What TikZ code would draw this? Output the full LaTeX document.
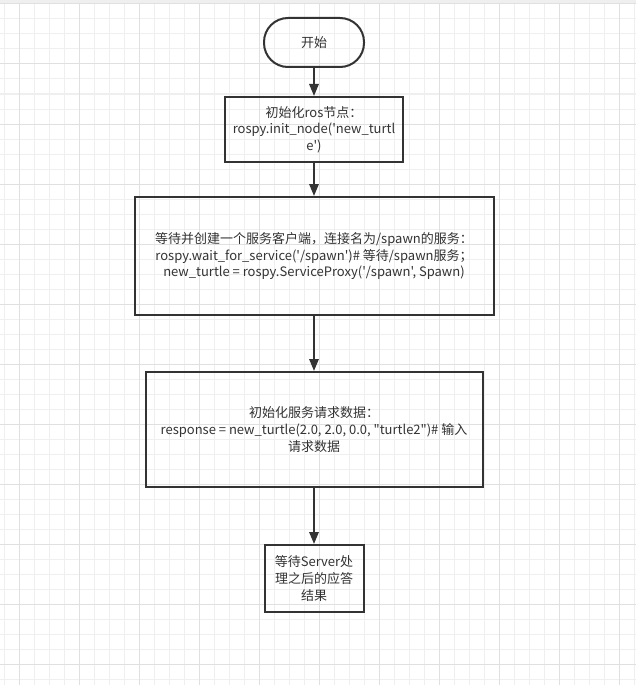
\documentclass[tikz,border=0pt]{standalone}
\usepackage{fontspec}
\newfontfamily\cjk{Noto Sans CJK SC}
\usepackage{xcolor}
\usetikzlibrary{positioning,arrows.meta}
\definecolor{ink}{HTML}{333333}
\definecolor{gridminor}{HTML}{EFEFEF}
\definecolor{gridmajor}{HTML}{E0E0E0}

\begin{document}
\begin{tikzpicture}[
  x=0.75pt,y=-0.75pt,
  font=\cjk\fontsize{9.75}{12.5}\selectfont,
  text=ink,
  box/.style={draw=ink,line width=1.5pt,align=center,inner sep=2pt},
  term/.style={box,rounded corners=18pt},
  >={Triangle[width=7pt,length=9pt]}]
% background grid
\useasboundingbox (0,0) rectangle (636,685);
\fill[white] (0,0) rectangle (636,685);
\fill[gridminor] (0,0) rectangle (636,3);
\foreach \i in {4,19,...,634} \draw[gridminor,line width=0.75pt] (\i,3) -- (\i,685);
\foreach \j in {4,19,...,679} \draw[gridminor,line width=0.75pt] (0,\j) -- (636,\j);
\foreach \i in {19,79,...,619} \draw[gridmajor,line width=0.75pt] (\i,3) -- (\i,685);
\foreach \j in {4,64,...,664} \draw[gridmajor,line width=0.75pt] (0,\j) -- (636,\j);

\node[term,minimum width=75pt,minimum height=36.75pt] (start) at (314,42.5) {开始};
\node[box,below=21pt of start,minimum width=133.5pt,minimum height=48.75pt] (init)
  {初始化ros节点：\\rospy.init\_node('new\_turtl\\e')};
\node[box,below=24.75pt of init,minimum width=269.25pt,minimum height=88.5pt] (client)
  {等待并创建一个服务客户端，连接名为/spawn的服务：\\
   rospy.wait\_for\_service('/spawn')\# 等待/spawn服务；\\
   new\_turtle = rospy.ServiceProxy('/spawn', Spawn)};
\node[box,below=41.25pt of client,minimum width=252.75pt,minimum height=86.25pt] (req)
  {初始化服务请求数据：\\
   response = new\_turtle(2.0, 2.0, 0.0, "turtle2")\# 输入\\请求数据};
\node[box,below=42pt of req,minimum width=74.25pt,minimum height=50.25pt] (result)
  {等待Server处\\理之后的应答\\结果};

\draw[->,ink,line width=1.5pt] (start) -- (init);
\draw[->,ink,line width=1.5pt] (init) -- (client);
\draw[->,ink,line width=1.5pt] (client) -- (req);
\draw[->,ink,line width=1.5pt] (req) -- (result);
\end{tikzpicture}
\end{document}
